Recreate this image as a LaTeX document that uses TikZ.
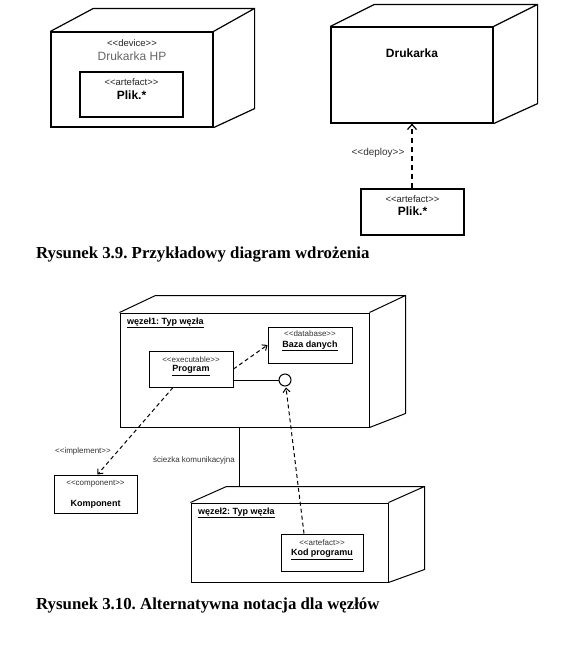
\documentclass[tikz,border=0pt]{standalone}
\usepackage{fontspec}
\setmainfont{Liberation Sans}
\newfontfamily\capfont{Liberation Serif}
\usetikzlibrary{arrows.meta,calc}
\newcommand\fsz[1]{\fontsize{#1}{#1}\selectfont}
\newcommand\stereo[1]{<\kern0pt<#1>\kern0pt>}
\frenchspacing
\begin{document}
\begin{tikzpicture}[x=1pt,y=-1pt,
  face/.style={draw, line width=1.2pt, fill=white, inner sep=0pt},
  edge/.style={line width=1.2pt, line join=miter},
  box/.style={draw, line width=1pt, fill=white, inner sep=0pt},
  txt/.style={inner sep=0pt},
  stb/.style={txt, font=\fsz{9.5}, text=black!85},
  sts/.style={txt, font=\fsz{8}, text=black!80},
  nmb/.style={txt, font=\bfseries\fsz{12}},
  nms/.style={txt, font=\bfseries\fsz{9}},
  lbl/.style={txt, font=\fsz{8}, text=black!80},
  capt/.style={txt, anchor=west, font=\capfont\bfseries\fsz{16.8}},
  dep/.style={line width=1.5pt, dash pattern=on 5pt off 4pt, -{Straight Barb[length=5pt,width=9pt,line width=1.2pt]}},
  dsh/.style={line width=1pt, dash pattern=on 4pt off 3pt, -{Straight Barb[length=4pt,width=7pt,line width=1pt]}}
]
\useasboundingbox (0,0) rectangle (566,649);

% ---------- Figure 3.9 ----------
\node[face, minimum width=162pt, minimum height=95pt] (n1) at (132,79.5) {};
\draw[edge] (n1.north west) -- ++(43,-23) -- ($(n1.north east)+(41,-23)$) -- ($(n1.south east)+(41,-19)$) -- (n1.south east)
            (n1.north east) -- ++(41,-23);
\node[stb] (n1st) at (132,43) {\stereo{device}};
\node[txt, font=\fsz{12}, text=black!60] (n1nm) at (132,56) {Drukarka HP};
\node[box, line width=1.2pt, minimum width=103pt, minimum height=45pt] (a1) at (131.5,94.5) {};
\node[stb] (a1st) at (131.5,82) {\stereo{artefact}};
\node[nmb] (a1nm) at (131.5,95.5) {Plik.*};

\node[face, minimum width=162pt, minimum height=96pt] (n2) at (412,75) {};
\draw[edge] (n2.north west) -- ++(44,-22) -- ($(n2.north east)+(44,-22)$) -- ($(n2.south east)+(44,-20)$) -- (n2.south east)
            (n2.north east) -- ++(44,-22);
\node[nmb] (n2nm) at (412,53) {Drukarka};

\node[box, line width=1.2pt, minimum width=103pt, minimum height=46pt] (a2) at (412.5,212) {};
\node[stb] (a2st) at (412.5,199.5) {\stereo{artefact}};
\node[nmb] (a2nm) at (412.5,211) {Plik.*};
\draw[dep] (a2.north -| n2.south) -- (n2.south);
\node[txt, font=\fsz{10}, text=black!80] (deplbl) at (378,153) {\stereo{deploy}};

\node[capt] (cap1) at (36,255) {Rysunek 3.9. Przykładowy diagram wdrożenia};

% ---------- Figure 3.10 ----------
\node[face, line width=1pt, minimum width=249pt, minimum height=114pt] (w1) at (244.5,370) {};
\draw[edge, line width=1pt] (w1.north west) -- ++(36,-17) -- ($(w1.north east)+(36,-17)$) -- ($(w1.south east)+(36,-14)$) -- (w1.south east)
            (w1.north east) -- ++(36,-17);
\node[nms, anchor=west] (w1nm) at (127,323) {\underline{węzeł1: Typ węzła}};

\node[box] (db) at (310,345) [minimum width=84pt, minimum height=36pt] {};
\node[sts] (dbst) at (310,334) {\stereo{database}};
\node[nms] (dbnm) at (310,346) {\underline{Baza danych}};

\node[box] (pg) at (191,369) [minimum width=84pt, minimum height=36pt] {};
\node[sts] (pgst) at (191,359.5) {\stereo{executable}};
\node[nms] (pgnm) at (191,370.5) {\underline{Program}};

\node[draw, circle, line width=1pt, fill=white, minimum size=12pt, inner sep=0pt] (ball) at (285,380) {};
\draw[line width=1pt] (ball -| pg.east) -- (ball.west);
\draw[dsh] (pg.east) -- (db.west);

\node[box] (km) at (95.5,494) [minimum width=83pt, minimum height=38pt] {};
\node[sts] (kmst) at (95.5,484) {\stereo{component}};
\node[nms] (kmnm) at (95.5,504) {Komponent};
\draw[dsh] ($(pg.south)+(-18,0)$) -- ($(km.north)+(2,0)$);
\node[lbl] (impl) at (83,451) {\stereo{implement}};

\node[face, line width=1pt, minimum width=197pt, minimum height=79pt] (w2) at (289.5,542.5) {};
\draw[edge, line width=1pt] (w2.north west) -- ++(36,-16) -- ($(w2.north east)+(36,-16)$) -- ($(w2.south east)+(36,-13)$) -- (w2.south east)
            (w2.north east) -- ++(36,-16);
\node[nms, anchor=west] (w2nm) at (198,513) {\underline{węzeł2: Typ węzła}};

\coordinate (w2top) at (239,487);
\draw[line width=1pt] (w2top |- w1.south) -- (w2top);
\node[lbl] (path) at (194,460) {ściezka komunikacyjna};

\node[box] (kod) at (322,552.5) [minimum width=82pt, minimum height=37pt] {};
\node[sts] (kodst) at (322,543) {\stereo{artefact}};
\node[nms] (kodnm) at (322,554.5) {\underline{Kod programu}};
\draw[dsh] ($(kod.north)+(-18,0)$) -- ($(ball.south)+(1,1)$);

\node[capt] (cap2) at (36,605) {Rysunek 3.10. Alternatywna notacja dla węzłów};
\end{tikzpicture}
\end{document}
